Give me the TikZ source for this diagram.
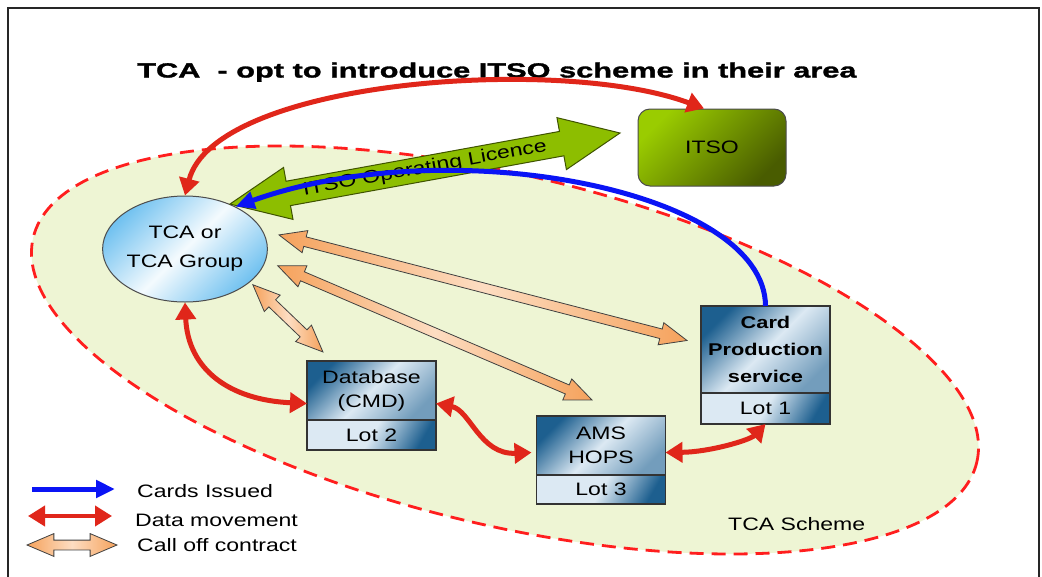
\documentclass[tikz,border=0pt]{standalone}
\usepackage{fontspec}
\setmainfont{Liberation Sans}[FakeStretch=1.28]
\newfontfamily\titlefont{Liberation Sans}[UprightFont=* Bold, FakeStretch=1.5, FakeBold=1.5]
\usetikzlibrary{shapes.geometric,shapes.arrows,arrows.meta,positioning,calc}

\definecolor{datared}{HTML}{E0261A}
\definecolor{dashred}{HTML}{FF1E1E}
\definecolor{schemefill}{HTML}{EEF5D4}
\definecolor{boxdark}{HTML}{1D5F8F}
\definecolor{boxlight}{HTML}{DCE9F3}
\definecolor{tcablue}{HTML}{72C2F0}
\definecolor{itsolight}{HTML}{9ACC00}
\definecolor{itsodark}{HTML}{495C00}
\definecolor{licence}{HTML}{8DBE00}
\definecolor{licenceedge}{HTML}{3F5300}
\definecolor{peach}{HTML}{FDDDC2}
\definecolor{callorange}{HTML}{F5A25C}
\definecolor{cardblue}{HTML}{0A14F5}

\tikzset{
  scheme/.style={draw=dashred, fill=schemefill, line width=2.8pt, dash pattern=on 14pt off 8pt},
  partbox/.style={draw=black!80, line width=1.2pt, outer sep=0pt, inner sep=0pt,
    minimum width=129pt, align=center, font=\fontsize{18}{24}\selectfont,
    top color=boxdark, bottom color=boxdark!55!boxlight, middle color=boxlight, shading angle=45},
  lotbox/.style={draw=black!80, line width=1.2pt, outer sep=0pt, inner sep=0pt,
    minimum width=129pt, align=center, font=\fontsize{18}{24}\selectfont,
    top color=boxlight, bottom color=boxdark, middle color=boxlight, shading angle=60},
  tcacirc/.style={ellipse, draw=black!70, line width=1pt, inner sep=0pt,
    minimum width=136pt, minimum height=106pt, align=center, font=\fontsize{18}{29}\selectfont,
    top color=tcablue, bottom color=tcablue, middle color=white!92!tcablue, shading angle=45},
  itsobox/.style={rectangle, rounded corners=12pt, draw=black!70, line width=1pt,
    minimum width=148pt, minimum height=77pt, font=\fontsize{18}{22}\selectfont,
    top color=itsolight, bottom color=itsodark, shading angle=45},
  legendtext/.style={anchor=base west, inner sep=0pt, font=\fontsize{18}{22}\selectfont},
  datamove/.style={draw=datared, line width=5pt, >={Triangle[length=17pt,width=20pt]}, <->},
  cardsflow/.style={draw=cardblue, line width=5pt, >={Triangle[length=19pt,width=17pt]}, ->},
  calloff/.style={double arrow, draw=black!75, line width=0.8pt, inner xsep=0pt, inner ysep=4.5pt,
    double arrow head extend=6.5pt, double arrow tip angle=46,
    left color=callorange, right color=callorange, middle color=peach},
  licencearrow/.style={double arrow, draw=licenceedge, line width=1pt, fill=licence,
    inner xsep=2pt, inner ysep=3.5pt, double arrow head extend=14pt, double arrow tip angle=48,
    font=\fontsize{18}{20}\selectfont}
}

% block arrow between two points
\newcommand\blockarrow[4]{%
  \path let \p1=(#2), \p2=(#3),
    \n1={atan2(\y2-\y1,\x2-\x1)}, \n2={veclen(\x2-\x1,\y2-\y1)} in
    node[#1, rotate=\n1, minimum height=\n2] at ($(\p1)!0.5!(\p2)$) {#4};}

\begin{document}
\begin{tikzpicture}[x=1pt,y=-1pt]
\useasboundingbox (0,0) rectangle (1042,576);
\fill[white] (0,0) rectangle (1042,576);
\draw[line width=2pt, black!85] (8,590) -- (8,8) -- (1039,8) -- (1039,590);

% scheme area
\draw[scheme, rotate around={-13.4:(505,350)}] (505,350) ellipse [x radius=485pt, y radius=175pt];

\node[anchor=base west, inner sep=0pt, font=\titlefont\fontsize{20.5}{24}\selectfont] (title) at (137,77.5)
  {TCA\ \ - opt to introduce ITSO scheme in their area};

\node[tcacirc] (tca) at (185,249) {TCA or\\TCA Group};
\node[itsobox] (itso) at (712,147.5) {ITSO};

\node[partbox, minimum height=59pt] (db) at (371.5,390.5) {Database\\(CMD)};
\node[lotbox, minimum height=30pt, below=0pt of db] (dblot) {Lot 2};
\node[partbox, minimum height=59pt] (ams) at (601,445.5) {AMS\\HOPS};
\node[lotbox, minimum height=29pt, below=0pt of ams] (amslot) {Lot 3};
\node[partbox, minimum height=87pt, font=\bfseries\fontsize{17}{27}\selectfont] (card) at (765.5,349.5)
  {Card\\Production\\service};
\node[lotbox, minimum height=31pt, below=0pt of card] (cardlot) {Lot 1};

\node[legendtext] (schemelabel) at (728,530) {TCA Scheme};

% call off contracts
\blockarrow{calloff}{[xshift=14pt]tca.10}{[shift={(-14,-9)}]card.west}{}
\blockarrow{calloff}{[xshift=14pt]tca.-12}{[shift={(-9,-16)}]ams.north}{}
\blockarrow{calloff}{[xshift=6pt]tca.-30}{[shift={(16,-9)}]db.north west}{}

% licence
\coordinate (licencetip) at (620,133);
\blockarrow{licencearrow}{tca.45}{licencetip}{ITSO Operating Licence}

\draw[cardsflow] (card.north) .. controls (765,190) and (450,130) .. (tca.40);

% data movement
\draw[datamove] (tca.north) .. controls (215,80) and (560,55) .. ([xshift=-8pt]itso.north);
\draw[datamove] (tca.south) .. controls (188,370) and (230,400) .. ([yshift=-13pt]db.west);
\draw[datamove] ([yshift=-13pt]db.east) .. controls (470,410) and (480,455) .. ([shift={(-5,7)}]ams.west);
\draw[datamove] ([yshift=-7pt]ams.east) .. controls (710,452) and (750,440) .. (cardlot.south);

% legend
\coordinate (legblue1) at (32,489);
\coordinate (legblue2) at (115,489);
\coordinate (legred1) at (28,516);
\coordinate (legred2) at (112,516);
\coordinate (legcall1) at (27,545);
\coordinate (legcall2) at (117,545);
\draw[cardsflow] (legblue1) -- (legblue2);
\draw[datamove, line width=4pt] (legred1) -- (legred2);
\blockarrow{calloff}{legcall1}{legcall2}{}
\node[legendtext] (cardsissued) at (137,497) {Cards Issued};
\node[legendtext] (datamovement) at (135,526) {Data movement};
\node[legendtext] (calloffcontract) at (137,551) {Call off contract};
\end{tikzpicture}
\end{document}
